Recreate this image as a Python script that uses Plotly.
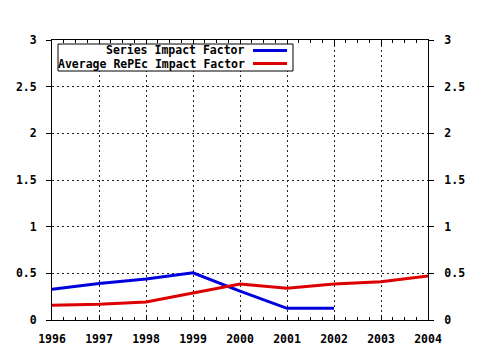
import plotly.graph_objects as go

years = [1996, 1997, 1998, 1999, 2000, 2001, 2002, 2003, 2004]
series_years = [1996, 1997, 1998, 1999, 2000, 2001, 2002]
series_if = [0.33, 0.39, 0.44, 0.505, 0.31, 0.125, 0.125]
repec_if = [0.157, 0.168, 0.193, 0.293, 0.386, 0.34, 0.386, 0.41, 0.471]
y_ticks = [0, 0.5, 1, 1.5, 2, 2.5, 3]
y_labels = ["0", "0.5", "1", "1.5", "2", "2.5", "3"]
legend_names = ["Series Impact Factor", "Average RePEc Impact Factor"]

BLUE = "#0000dd"
RED = "#dd0000"
FONT = dict(family="DejaVu Sans Mono", size=11.5, color="black", weight="bold")
GRIDDASH = "2px,3px"

L, R, T, B = 52, 52, 40, 30
W, H = 480, 350
pw, ph = W - L - R, H - T - B

def px(xp):
    return (xp - L) / pw

def py(yp):
    return (H - B - yp) / ph

fig = go.Figure()
fig.add_trace(go.Scatter(x=series_years, y=series_if, mode="lines",
                         line=dict(color=BLUE, width=3), name=legend_names[0]))
fig.add_trace(go.Scatter(x=years, y=repec_if, mode="lines",
                         line=dict(color=RED, width=3), name=legend_names[1]))
fig.add_trace(go.Scatter(x=[years[0]], y=[0], yaxis="y2", mode="markers",
                         marker=dict(opacity=0), showlegend=False, hoverinfo="skip"))

fig.update_layout(
    width=W, height=H,
    margin=dict(l=L, r=R, t=T, b=B, pad=0, autoexpand=False),
    paper_bgcolor="white", plot_bgcolor="white",
    showlegend=False,
    font=FONT,
    xaxis=dict(range=[1996, 2004], tickvals=years, ticktext=[str(y) for y in years],
               automargin=False,
               showgrid=True, gridcolor="#222222", griddash=GRIDDASH, gridwidth=1,
               zeroline=False, showline=True, linecolor="black", linewidth=1, mirror="ticks",
               ticks="inside", ticklen=5, tickcolor="black", ticklabelstandoff=8,
               minor=dict(dtick=0.25, ticks="inside", ticklen=3, tickcolor="black", showgrid=False),
               tickfont=FONT),
    yaxis=dict(range=[0, 3], tickvals=y_ticks, ticktext=y_labels, automargin=False,
               showgrid=True, gridcolor="#222222", griddash=GRIDDASH, gridwidth=1,
               zeroline=False, showline=True, linecolor="black", linewidth=1,
               ticks="outside", ticklen=5, tickcolor="black", ticklabelstandoff=7,
               tickfont=FONT),
    yaxis2=dict(range=[0, 3], tickvals=y_ticks, ticktext=y_labels, overlaying="y", side="right",
                automargin=False,
                showgrid=False, zeroline=False, showline=True, linecolor="black", linewidth=1,
                ticks="outside", ticklen=5, tickcolor="black", ticklabelstandoff=8,
                tickfont=FONT),
)

# custom legend (gnuplot style: text right-aligned, line sample to the right)
fig.add_shape(type="rect", xref="paper", yref="paper",
              x0=px(58), x1=px(293), y0=py(71), y1=py(44),
              line=dict(color="black", width=1), fillcolor="white", layer="above")
for name, color, yc in [(legend_names[0], BLUE, 50.5), (legend_names[1], RED, 63.5)]:
    fig.add_annotation(xref="paper", yref="paper", x=px(247), y=py(yc), text=name,
                       showarrow=False, xanchor="right", yanchor="middle", font=FONT)
    fig.add_shape(type="line", xref="paper", yref="paper",
                  x0=px(253), x1=px(287), y0=py(yc), y1=py(yc),
                  line=dict(color=color, width=3), layer="above")

fig.write_html("out.html")
